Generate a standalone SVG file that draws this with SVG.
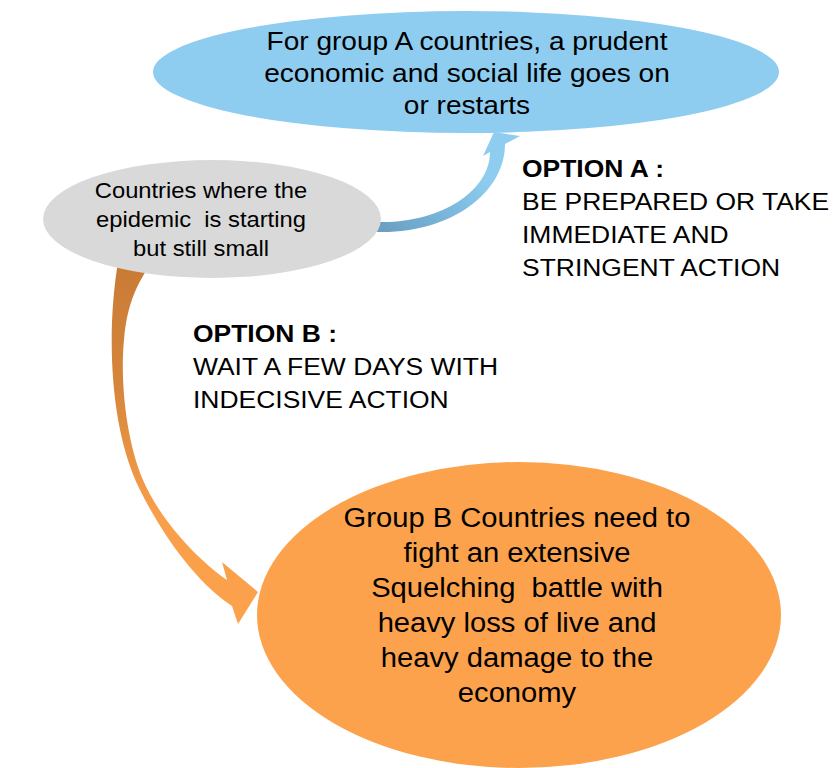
<svg xmlns="http://www.w3.org/2000/svg" width="836" height="768" viewBox="0 0 836 768">
  <defs>
    <!-- shading of the curved arrows, dark at the tail and light at the head -->
    <linearGradient id="gradA" gradientUnits="userSpaceOnUse" x1="383" y1="230" x2="505" y2="140">
      <stop offset="0" stop-color="#6a9fc3"/>
      <stop offset="0.45" stop-color="#7db8de"/>
      <stop offset="0.75" stop-color="#8ecdf0"/>
      <stop offset="1" stop-color="#8ecdf0"/>
    </linearGradient>
    <linearGradient id="gradB" gradientUnits="userSpaceOnUse" x1="0" y1="262" x2="0" y2="625">
      <stop offset="0" stop-color="#c97b36"/>
      <stop offset="0.35" stop-color="#d6863c"/>
      <stop offset="0.7" stop-color="#f99f4b"/>
      <stop offset="1" stop-color="#fca24c"/>
    </linearGradient>
  </defs>
  <style>
    text { font-family: "Liberation Sans", Arial, sans-serif; fill: #000; white-space: pre; }
    .center { text-anchor: middle; }
    .lbl-a { font-size: 26px; }
    .lbl-start { font-size: 22px; }
    .lbl-b { font-size: 27px; }
    .opt { font-size: 24.5px; }
    .opt-title { font-weight: bold; }
  </style>

  <rect width="836" height="768" fill="#ffffff"/>

  <g id="connectors">
    <!-- option A: curved arrow from the start node up to group A -->
    <path id="arrow-option-a" fill="url(#gradA)"
          d="M 372,222 L 383,222 C 442,222 490,190.6 490,152
             L 483,156 L 494,132 L 520,136 L 505,144
             C 505,193.5 450.3,232 383,232 L 372,232 Z"/>
    <!-- option B: curved arrow from the start node down to group B -->
    <path id="arrow-option-b" fill="url(#gradB)"
          d="M 118,262 C 106,335 110,430 140,490 C 166,542 200,585 232,606
             L 238,624 L 258,592 L 222,562 L 227,580
             C 198,560 160,520 143,480 C 126,440 120,380 124,340
             C 127,305 136,285 152,262 Z"/>
  </g>

  <g id="node-group-a">
    <ellipse cx="466" cy="72" rx="313" ry="61" fill="#8ecdf0"/>
    <text class="lbl-a center" transform="translate(467 50) scale(1.08 1)">For group A countries, a prudent</text>
    <text class="lbl-a center" transform="translate(467 82) scale(1.08 1)">economic and social life goes on</text>
    <text class="lbl-a center" transform="translate(467 114) scale(1.08 1)">or restarts</text>
  </g>

  <g id="node-start">
    <ellipse cx="212" cy="219" rx="169" ry="59" fill="#d9d9d9"/>
    <text class="lbl-start center" transform="translate(201 198) scale(1.08 1)">Countries where the</text>
    <text class="lbl-start center" transform="translate(201 227) scale(1.08 1)">epidemic  is starting</text>
    <text class="lbl-start center" transform="translate(201 256) scale(1.08 1)">but still small</text>
  </g>

  <g id="node-group-b">
    <ellipse cx="519" cy="615" rx="262" ry="153" fill="#fca24c"/>
    <text class="lbl-b center" transform="translate(517 527) scale(1.08 1)">Group B Countries need to</text>
    <text class="lbl-b center" transform="translate(517 562) scale(1.08 1)">fight an extensive</text>
    <text class="lbl-b center" transform="translate(517 597) scale(1.08 1)">Squelching  battle with</text>
    <text class="lbl-b center" transform="translate(517 632) scale(1.08 1)">heavy loss of live and</text>
    <text class="lbl-b center" transform="translate(517 667) scale(1.08 1)">heavy damage to the</text>
    <text class="lbl-b center" transform="translate(517 702) scale(1.08 1)">economy</text>
  </g>

  <g id="label-option-a">
    <text class="opt opt-title" transform="translate(522 177) scale(1.08 1)">OPTION A :</text>
    <text class="opt" transform="translate(522 210) scale(1.08 1)">BE PREPARED OR TAKE</text>
    <text class="opt" transform="translate(522 243) scale(1.08 1)">IMMEDIATE AND</text>
    <text class="opt" transform="translate(522 276) scale(1.08 1)">STRINGENT ACTION</text>
  </g>

  <g id="label-option-b">
    <text class="opt opt-title" transform="translate(193 342) scale(1.08 1)">OPTION B :</text>
    <text class="opt" transform="translate(193 375) scale(1.08 1)">WAIT A FEW DAYS WITH</text>
    <text class="opt" transform="translate(193 408) scale(1.08 1)">INDECISIVE ACTION</text>
  </g>
</svg>
